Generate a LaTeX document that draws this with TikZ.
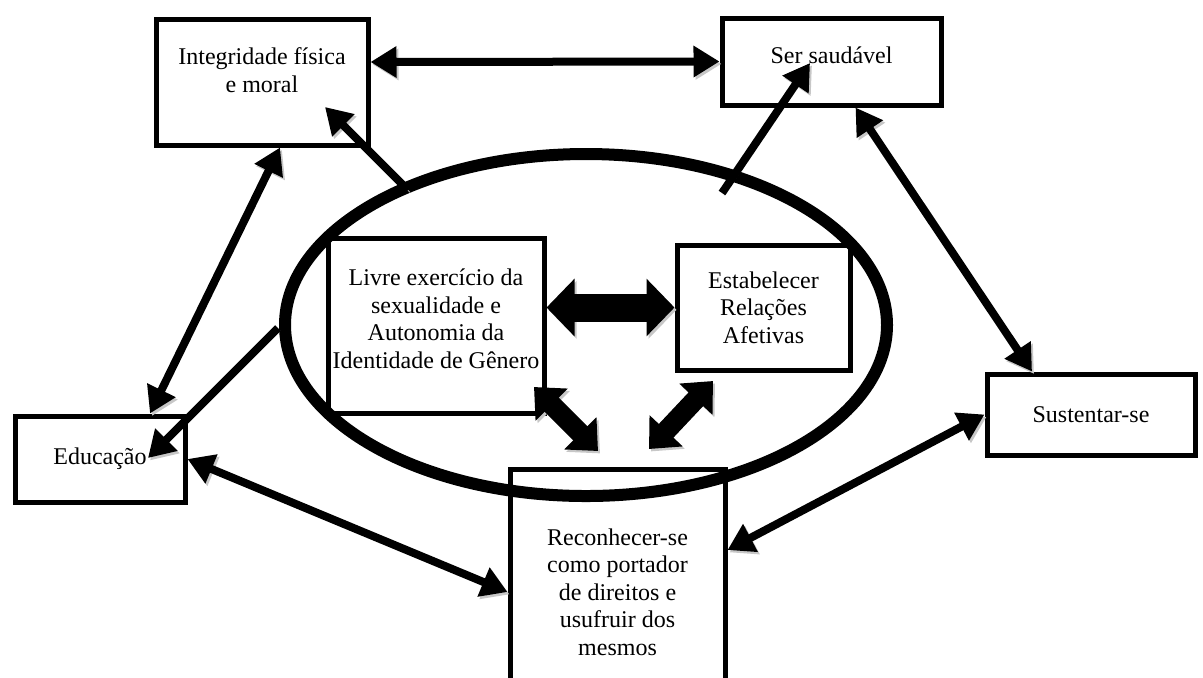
\documentclass[tikz,border=0pt]{standalone}
\usepackage{fontspec}
\setmainfont{Liberation Serif}
\usetikzlibrary{arrows.meta}
\tikzset{>={Triangle[length=13pt,width=15pt]}}
\tikzset{
    box/.style={draw, line width=2.5pt, align=center, inner sep=0pt,
        font=\fontsize{12}{13.8}\selectfont},
    shade/.style={preaction={draw=black!22, transform canvas={shift={(1pt,-1.2pt)}}}},
    link/.style={shade, line width=4pt},
    blockarrow/.style={shade, line width=14pt, >={Triangle[length=14pt,width=28pt]}},
    slantarrow/.style={shade, line width=10pt, >={Triangle[length=12.5pt,width=22pt]}}
}

\begin{document}
\begin{tikzpicture}[x=0.5pt,y=-0.5pt]
            \useasboundingbox (0,0) rectangle (1203,677);
            \clip (0,0) rectangle (1203,677);
            \node[box, minimum width=106pt, minimum height=63pt] (integ) at (262,82) {Integridade física\\e moral\\[-2pt]\mbox{}};
            \node[box, minimum width=109.5pt, minimum height=43.5pt] (saude) at (831.5,61.5) {Ser saudável\\[-7pt]\mbox{}};
            \node[box, minimum width=108pt, minimum height=87.5pt] (livre) at (436,325.5) {Livre exercício da\\sexualidade e\\Autonomia da\\Identidade de Gênero\\[-7pt]\mbox{}};
            \node[box, minimum width=86.5pt, minimum height=62.5pt] (estab) at (763.5,307.5) {Estabelecer\\Relações\\Afetivas};
            \node[box, minimum width=85pt, minimum height=43pt] (educ) at (100,459) {Educação};
            \node[box, minimum width=104pt, minimum height=40.5pt] (sust) at (1091,414.5) {Sustentar-se};
            \node[box, minimum width=107.5pt, minimum height=123pt] (recon) at (617.5,592) {Reconhecer-se\\como portador\\de direitos e\\usufruir dos\\mesmos};
            \draw[shade, line width=6pt] (586,325) ellipse [x radius=301, y radius=171];
            \coordinate (ringnw) at (408,190);
            \coordinate (ringne) at (722,193);
            \coordinate (ringw) at (278,328);
            \coordinate (integtip) at (325,107);
            \coordinate (saudetip) at (810,63);
            \coordinate (eductip) at (148,458);
            \coordinate (livretip) at (534,387);
            \coordinate (estabtip) at (713,381);
            \coordinate (recontipl) at (598,451);
            \coordinate (recontipr) at (649,449);
            \draw[link,<->] ([yshift=10pt]integ.east) -- (saude.west);
            \draw[link,->] (ringnw) -- (integtip);
            \draw[link,->] (ringne) -- (saudetip);
            \draw[link,<->] ([xshift=9pt]integ.south) -- ([xshift=25pt]educ.north);
            \draw[link,->] (ringw) -- (eductip);
            \draw[link,<->] (educ.east) -- (recon.west);
            \draw[link,<->] ([yshift=21pt]recon.east) -- (sust.west);
            \draw[link,<->] ([xshift=12pt]saude.south) -- ([xshift=-29.5pt]sust.north);
            \draw[blockarrow,<->] (livre.east |- estab.west) -- (estab.west);
            \draw[slantarrow,<->] (livretip) -- (recontipl);
            \draw[slantarrow,<->] (estabtip) -- (recontipr);
        \end{tikzpicture}
\end{document}
